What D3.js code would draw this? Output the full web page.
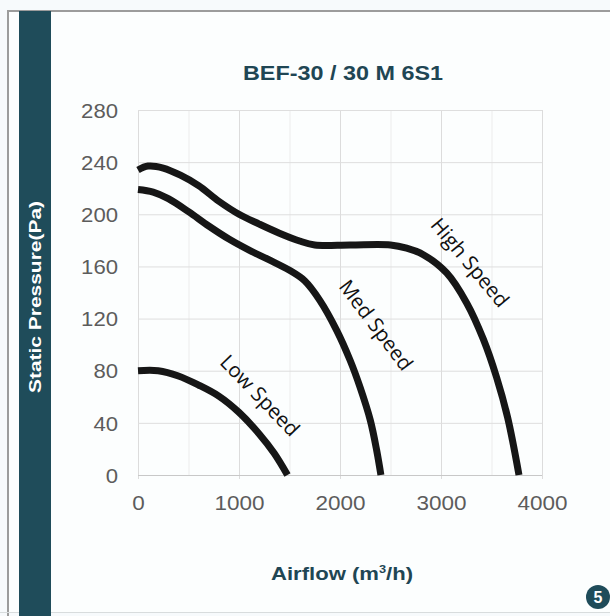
<!DOCTYPE html>
<html>
<head>
<meta charset="utf-8">
<script src="https://cdn.jsdelivr.net/npm/d3@7"></script>
<style>
  html, body { margin: 0; padding: 0; background: #ffffff; }
  svg { display: block; }
</style>
</head>
<body>
<svg id="chart" width="610" height="616"></svg>
<script>
// ---- data ----
const chartTitle = "BEF-30 / 30 M 6S1";
const xTicks = [0, 1000, 2000, 3000, 4000];
const yTicks = [0, 40, 80, 120, 160, 200, 240, 280];
const xMinorGrid = [500, 1500, 2500, 3500];

const highX = [0, 100, 250, 420, 600, 800, 1000, 1200, 1400, 1600, 1750, 2100, 2500, 2660, 2825, 3056, 3254, 3420, 3550, 3660, 3772];
const highY = [234, 237, 235.5, 230, 222, 210, 200, 192.5, 185.5, 179.5, 176.5, 176.5, 176.5, 174, 169, 155, 132, 104, 75, 44, 0];

const medX = [0, 150, 300, 500, 700, 900, 1100, 1300, 1500, 1650, 1800, 1967, 2100, 2200, 2300, 2363, 2405];
const medY = [219, 217, 212, 202, 191, 181, 172.5, 165, 157, 149, 134, 111, 88, 67, 42, 19, 0];

const lowX = [0, 200, 400, 600, 800, 1000, 1200, 1350, 1480];
const lowY = [80, 80, 76, 69, 60.5, 48, 31.5, 16.5, 0];

const seriesNames = ["High Speed", "Med Speed", "Low Speed"];
const labelX = [3287, 2356, 1208];
const labelY = [163, 115, 61];
const labelAngle = [50, 53, 46];

// ---- layout ----
const svg = d3.select("#chart");
const W = 610, H = 616;
const teal = "#1f4c5a";

const x = d3.scaleLinear().domain([0, 4000]).range([138, 542]);
const y = d3.scaleLinear().domain([0, 280]).range([475, 110]);

// background
svg.append("rect").attr("x", 0).attr("y", 0).attr("width", W).attr("height", H).attr("fill", "#f7fafc");
svg.append("rect").attr("x", 9).attr("y", 12).attr("width", W - 9).attr("height", 600).attr("fill", "#fcfefe");
// borders
svg.append("line").attr("x1", 8).attr("x2", 8).attr("y1", 10).attr("y2", H).attr("stroke", "#9c9c9c").attr("stroke-width", 2);
svg.append("line").attr("x1", 7).attr("x2", W).attr("y1", 11).attr("y2", 11).attr("stroke", "#9c9c9c").attr("stroke-width", 2);
svg.append("line").attr("x1", 0).attr("x2", W).attr("y1", 612.5).attr("y2", 612.5).attr("stroke", "#d8dcdd").attr("stroke-width", 1);
// side bar
svg.append("rect").attr("x", 19).attr("y", 11).attr("width", 32).attr("height", H - 11).attr("fill", teal);

// title
svg.append("text").attr("x", 343).attr("y", 80).attr("text-anchor", "middle")
  .attr("font-family", "Liberation Sans, Arial, sans-serif").attr("font-size", 21).attr("font-weight", "bold")
  .attr("fill", "#1f4654").attr("textLength", 200).attr("lengthAdjust", "spacingAndGlyphs")
  .text(chartTitle);

// grid
const grid = svg.append("g");
grid.selectAll(".vminor").data(xMinorGrid).join("line")
  .attr("x1", d => x(d) + 0.5).attr("x2", d => x(d) + 0.5).attr("y1", y(280)).attr("y2", y(0))
  .attr("stroke", "#ececec").attr("stroke-width", 1);
grid.selectAll(".vmajor").data(xTicks).join("line")
  .attr("x1", d => x(d) + 0.5).attr("x2", d => x(d) + 0.5).attr("y1", y(280)).attr("y2", y(0) + 4)
  .attr("stroke", "#dcdcdc").attr("stroke-width", 1);
grid.selectAll(".h").data(yTicks).join("line")
  .attr("x1", x(0)).attr("x2", x(4000)).attr("y1", d => y(d) + 0.5).attr("y2", d => y(d) + 0.5)
  .attr("stroke", d => d === 0 ? "#c8c8c8" : "#dedede").attr("stroke-width", 1);

// axes
const axisFont = "Liberation Sans, Arial, sans-serif";
const yAxis = svg.append("g").attr("transform", `translate(${x(0) - 20},0)`)
  .call(d3.axisLeft(y).tickValues(yTicks).tickSize(0).tickPadding(0).tickFormat(d3.format("d")));
yAxis.select(".domain").remove();
yAxis.selectAll("text").attr("font-family", axisFont).attr("font-size", 20).attr("fill", "#5c5c5c")
  .attr("dy", "0.36em")
  .attr("textLength", function(d) { return String(d).length * 12.3; }).attr("lengthAdjust", "spacingAndGlyphs");

const xAxis = svg.append("g").attr("transform", `translate(0,${y(0) + 20})`)
  .call(d3.axisBottom(x).tickValues(xTicks).tickSize(0).tickPadding(0).tickFormat(d3.format("d")));
xAxis.select(".domain").remove();
xAxis.selectAll("text").attr("font-family", axisFont).attr("font-size", 20).attr("fill", "#5c5c5c")
  .attr("dy", "0.75em")
  .attr("textLength", function(d) { return String(d).length * 12.5; }).attr("lengthAdjust", "spacingAndGlyphs");

// axis titles
const xt = svg.append("text").attr("x", 342).attr("y", 580).attr("text-anchor", "middle")
  .attr("font-family", axisFont).attr("font-size", 19).attr("fill", "#1f4654").attr("font-weight", "bold")
  .attr("textLength", 142).attr("lengthAdjust", "spacingAndGlyphs");
xt.append("tspan").text("Airflow (m");
xt.append("tspan").attr("font-size", 11).attr("dy", -7).text("3");
xt.append("tspan").attr("dy", 7).text("/h)");

svg.append("text").attr("transform", "translate(41,297) rotate(-90)").attr("text-anchor", "middle")
  .attr("font-family", axisFont).attr("font-size", 17).attr("font-weight", "bold").attr("fill", "#ffffff")
  .attr("textLength", 192).attr("lengthAdjust", "spacingAndGlyphs")
  .text("Static Pressure(Pa)");

// curves
const series = [
  { xs: highX, ys: highY },
  { xs: medX, ys: medY },
  { xs: lowX, ys: lowY }
];
const line = d3.line().x(d => x(d[0])).y(d => y(d[1])).curve(d3.curveCatmullRom.alpha(0.5));
svg.append("g").selectAll("path").data(series).join("path")
  .attr("d", s => line(s.xs.map((v, i) => [v, s.ys[i]])))
  .attr("fill", "none").attr("stroke", "#161616").attr("stroke-width", 7)
  .attr("stroke-linejoin", "round");

// curve labels
svg.append("g").selectAll("text").data(seriesNames).join("text")
  .attr("transform", (d, i) => `translate(${x(labelX[i])},${y(labelY[i])}) rotate(${labelAngle[i]})`)
  .attr("text-anchor", "middle").attr("dy", "0.35em")
  .attr("font-family", "Open Sans, Liberation Sans, sans-serif").attr("font-size", 20.5).attr("fill", "#111")
  .text(d => d);

// badge
svg.append("circle").attr("cx", 598).attr("cy", 597).attr("r", 12).attr("fill", teal);
svg.append("text").attr("x", 598).attr("y", 597).attr("dy", "0.36em").attr("text-anchor", "middle")
  .attr("font-family", axisFont).attr("font-weight", "bold").attr("font-size", 16).attr("fill", "#fff").text("5");
</script>
</body>
</html>
